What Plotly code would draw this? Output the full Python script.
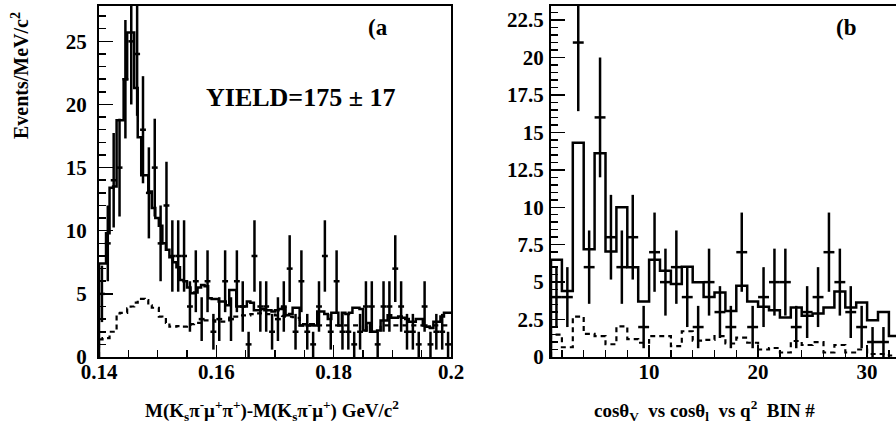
import numpy as np
import plotly.graph_objects as go

# ---------------- data: panel (a) ----------------
a_xmin, a_xmax = 0.14, 0.20
a_data_counts = [5, 9, 14, 15, 22, 25, 24, 18, 13, 15,
                 9, 12, 8, 8, 8, 4, 6, 3, 6, 2,
                 3, 6, 3, 6, 4, 1, 8, 4, 4, 2,
                 3, 4, 7, 2, 6, 2, 1, 4, 8, 2,
                 6, 2, 2, 1, 2, 4, 4, 1, 4, 4,
                 7, 4, 2, 2, 1, 4, 1, 2, 2, 1]
a_fit = [7.4, 7.4, 9.8, 13.4, 13.5, 18.75, 18.75, 22.0, 25.7, 25.7,
         21.3, 17.4, 14.4, 14.4, 13.1, 11.8, 11.0, 10.4, 9.0, 8.5,
         7.9, 7.5, 7.1, 6.1, 6.0, 5.5, 5.05, 5.1, 5.5, 5.7,
         5.6, 4.65, 4.6, 4.6, 4.4, 4.4, 4.1, 5.3, 5.3, 4.0,
         4.0, 4.0, 4.4, 4.3, 3.7, 3.7, 3.8, 3.7, 3.7, 3.6,
         3.7, 3.8, 3.9, 3.3, 3.4, 3.9, 3.9, 2.5, 2.6, 2.5,
         2.6, 2.5, 3.6, 3.6, 3.4, 3.0, 3.5, 3.5, 2.5, 3.5,
         3.4, 3.5, 3.9, 3.9, 3.8, 2.1, 2.7, 2.0, 2.0, 2.1,
         2.9, 2.9, 3.3, 3.1, 3.1, 3.2, 3.1, 3.0, 2.8, 2.8,
         3.0, 3.0, 2.5, 2.4, 2.3, 2.8, 2.8, 3.2, 3.5, 3.5]
a_bkg = [1.4, 1.5, 1.5, 2.0, 2.0, 3.45, 3.5, 3.5, 3.85, 4.0,
         4.3, 4.6, 4.6, 4.5, 4.1, 3.9, 3.9, 3.2, 3.1, 2.7,
         2.4, 2.4, 2.45, 2.4, 2.4, 2.55, 2.6, 2.7, 2.7, 2.9,
         2.9, 2.9, 2.9, 2.8, 2.8, 2.8, 2.8, 3.2, 3.2, 3.2,
         3.3, 3.3, 3.3, 3.4, 3.45, 3.45, 3.4, 3.4, 3.4, 3.35,
         3.3, 3.3, 3.25, 3.2, 3.2, 3.15, 3.1, 2.5, 2.5, 2.5,
         2.5, 2.5, 2.5, 2.5, 2.5, 2.5, 2.5, 2.5, 2.5, 2.5,
         2.5, 2.5, 2.5, 2.5, 2.5, 2.1, 2.5, 2.0, 2.0, 2.1,
         2.5, 2.5, 2.5, 2.5, 2.5, 2.5, 2.5, 2.5, 2.5, 2.5,
         2.5, 2.5, 2.5, 2.4, 2.3, 2.5, 2.5, 2.5, 2.5, 2.5]
a_yticks = [0, 5, 10, 15, 20, 25]
a_xticks = [0.14, 0.16, 0.18, 0.20]
a_xticklabels = ["0.14", "0.16", "0.18", "0.2"]

# ---------------- data: panel (b) ----------------
b_first_bin = 1
b_data_counts = [4, 4, 21, 6, 16, 8, 6, 8, 2, 7,
                 5, 6, 4, 2, 5, 3, 2, 7, 2, 4,
                 5, 5, 2, 3, 4, 7, 5, 3, 2, 1,
                 1, 0]
b_fit = [6.5, 4.4, 14.3, 7.2, 13.6, 7.05, 10.0, 6.0, 3.7, 6.5,
         5.76, 4.87, 6.03, 5.0, 4.0, 4.3, 3.08, 4.75, 3.7, 3.35,
         3.13, 2.63, 3.3, 2.75, 2.9, 3.3, 4.37, 3.3, 3.64, 2.45,
         3.0, 1.4]
b_bkg = [1.5, 0.65, 2.7, 1.55, 1.4, 0.85, 2.05, 1.2, 0.95, 1.4,
         1.4, 0.73, 1.72, 1.1, 1.15, 1.4, 0.9, 1.3, 0.95, 0.5,
         0.6, 0.3, 1.07, 0.8, 1.0, 0.3, 0.8, 0.3, 0.5, 0.2,
         0.2, 0.1]
b_yticks = [0, 2.5, 5, 7.5, 10, 12.5, 15, 17.5, 20, 22.5]
b_yticklabels = ["0", "2.5", "5", "7.5", "10", "12.5", "15", "17.5", "20", "22.5"]
b_xticks = [10, 20, 30]

# ---------------- helpers ----------------
W, H = 896, 433
T, B = 6, 76
PH = H - T - B


def step_xy(edges, vals):
    xs = [edges[0]] + list(edges[:-1]) + [edges[-1]]
    ys = [0] + list(vals) + [vals[-1]]
    return xs, ys


FONT = "Liberation Serif"
fig = go.Figure()

# panel a
na = len(a_data_counts)
a_w = (a_xmax - a_xmin) / na
a_centers = a_xmin + a_w * (np.arange(na) + 0.5)
fe = np.linspace(a_xmin, a_xmax, len(a_fit) + 1)
be = np.linspace(a_xmin, a_xmax, len(a_bkg) + 1)

x, y = step_xy(be, a_bkg)
fig.add_trace(go.Scatter(x=x, y=y, mode="lines", line=dict(shape="hv", color="black", width=2.2, dash="5px,4px"),
                         xaxis="x", yaxis="y", showlegend=False, hoverinfo="skip"))
x, y = step_xy(fe, a_fit)
fig.add_trace(go.Scatter(x=x, y=y, mode="lines", line=dict(shape="hv", color="black", width=2.5),
                         xaxis="x", yaxis="y", showlegend=False, hoverinfo="skip"))
ad = np.array(a_data_counts, float)
m = ad > 0
fig.add_trace(go.Scatter(x=a_centers[m], y=ad[m], mode="markers", marker=dict(size=1, color="black"),
                         error_y=dict(type="data", array=np.sqrt(ad[m]), color="black", thickness=2.5, width=0),
                         error_x=dict(type="constant", value=a_w / 2, color="black", thickness=2.5, width=0),
                         xaxis="x", yaxis="y", showlegend=False, hoverinfo="skip"))

# panel b
nb = len(b_data_counts)
b_edges = b_first_bin + np.arange(nb + 1)
b_centers = b_first_bin + np.arange(nb) + 0.5
x, y = step_xy(b_edges, b_bkg)
fig.add_trace(go.Scatter(x=x, y=y, mode="lines", line=dict(shape="hv", color="black", width=2.2, dash="5px,4px"),
                         xaxis="x2", yaxis="y2", showlegend=False, hoverinfo="skip"))
x, y = step_xy(b_edges, b_fit)
fig.add_trace(go.Scatter(x=x, y=y, mode="lines", line=dict(shape="hv", color="black", width=2.5),
                         xaxis="x2", yaxis="y2", showlegend=False, hoverinfo="skip"))
bd = np.array(b_data_counts, float)
m = bd > 0
fig.add_trace(go.Scatter(x=b_centers[m], y=bd[m], mode="markers", marker=dict(size=1, color="black"),
                         error_y=dict(type="data", array=np.sqrt(bd[m]), color="black", thickness=2.5, width=0),
                         error_x=dict(type="constant", value=0.5, color="black", thickness=2.5, width=0),
                         xaxis="x2", yaxis="y2", showlegend=False, hoverinfo="skip"))

tickfont = dict(family=FONT, size=21, color="black", weight="bold")
axis_common = dict(showgrid=False, zeroline=False, showline=True, linecolor="black", linewidth=2,
                   ticks="inside", tickcolor="black", tickwidth=1.5, tickfont=tickfont, automargin=False)

b_px_per_unit = 10.9
b_left_px = 551
b_xmax = b_first_bin + (W - b_left_px) / b_px_per_unit

fig.update_layout(
    width=W, height=H, margin=dict(l=0, r=0, t=T, b=B, autoexpand=False),
    paper_bgcolor="white", plot_bgcolor="white", hovermode=False,
    xaxis=dict(domain=[99 / W, 451 / W], range=[a_xmin, a_xmax], anchor="y", mirror=True,
               tickvals=a_xticks, ticktext=a_xticklabels, ticklen=12,
               minor=dict(ticks="inside", dtick=0.005, ticklen=7, tickcolor="black", tickwidth=1.5),
               ticklabelstandoff=-5, **axis_common),
    yaxis=dict(domain=[0, 1], range=[0, 27.8], anchor="x", mirror=True,
               tickvals=a_yticks, ticklen=14,
               minor=dict(ticks="inside", dtick=1, ticklen=7, tickcolor="black", tickwidth=1.5),
               ticklabelstandoff=6, **axis_common),
    xaxis2=dict(domain=[b_left_px / W, 1], range=[b_first_bin, b_xmax], anchor="y2", mirror=True,
                tickvals=b_xticks, ticklen=12,
                minor=dict(ticks="inside", dtick=2, tick0=0, ticklen=7, tickcolor="black", tickwidth=1.5),
                ticklabelstandoff=-5, **axis_common),
    yaxis2=dict(domain=[0, 1], range=[0, 23.44], anchor="x2", mirror=False,
                tickvals=b_yticks, ticktext=b_yticklabels, ticklen=14,
                minor=dict(ticks="inside", dtick=0.5, ticklen=7, tickcolor="black", tickwidth=1.5),
                ticklabelstandoff=1, **axis_common),
)


def py(p):
    return (H - B - p) / PH


ann_font = dict(family=FONT, color="black", weight="bold")
annots = [
    dict(text="Events/MeV/c<sup>2</sup>", x=20 / W, y=py(76), textangle=-90, size=20),
    dict(text="M(K<sub>s</sub>π<sup>-</sup>μ<sup>+</sup>π<sup>+</sup>)-M(K<sub>s</sub>π<sup>-</sup>μ<sup>+</sup>) GeV/c<sup>2</sup>",
         x=272 / W, y=py(410), textangle=0, size=19),
    dict(text="cosθ<sub>V</sub>\u00a0 vs cosθ<sub>l</sub>\u00a0 vs q<sup>2</sup>\u00a0 BIN #",
         x=704 / W, y=py(411), textangle=0, size=19),
    dict(text="(a", x=378 / W, y=py(28), textangle=0, size=23),
    dict(text="(b", x=846 / W, y=py(28), textangle=0, size=23),
    dict(text="YIELD=175 ± 17", x=300 / W, y=py(97), textangle=0, size=26),
]
for a in annots:
    fig.add_annotation(text=a["text"], x=a["x"], y=a["y"], xref="paper", yref="paper",
                       xanchor="center", yanchor="middle", showarrow=False, textangle=a["textangle"],
                       font=dict(size=a["size"], **ann_font))

fig.write_html("out.html", config={"displayModeBar": False, "staticPlot": True},
               post_script="document.body.style.margin='0';document.body.style.overflow='hidden';")
